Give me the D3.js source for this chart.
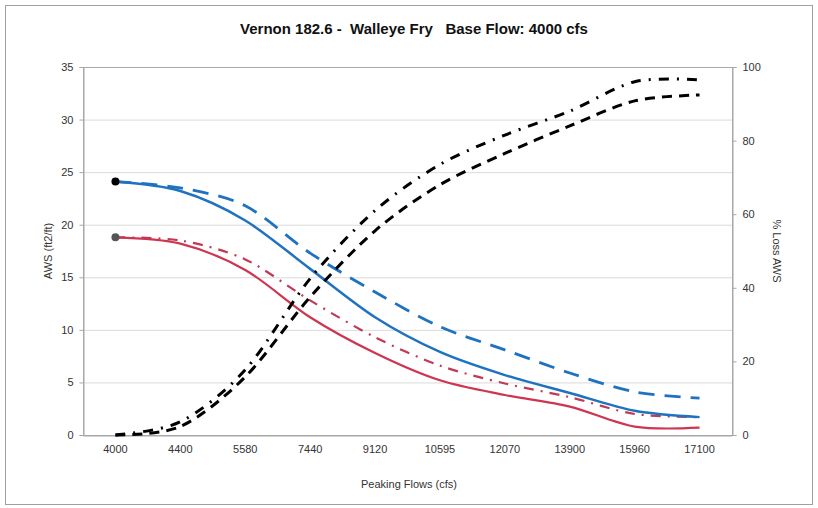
<!DOCTYPE html>
<html>
<head>
<meta charset="utf-8">
<script src="https://cdn.jsdelivr.net/npm/d3@7"></script>
<style>
  body { margin: 0; background: #fff; }
  text { font-family: "Liberation Sans", Arial, sans-serif; }
</style>
</head>
<body>
<svg id="chart" width="818" height="508"></svg>
<script>
// ---- data ----
const categories = ["4000", "4400", "5580", "7440", "9120", "10595", "12070", "13900", "15960", "17100"];
const awsBlueSolid  = [24.1, 23.2, 20.4, 15.8, 11.2, 7.9, 5.7, 4.0, 2.3, 1.7];
const awsBlueDashed = [24.1, 23.5, 21.8, 17.3, 13.6, 10.3, 8.1, 5.9, 4.1, 3.5];
const awsRedSolid   = [18.8, 18.2, 15.7, 11.2, 7.8, 5.2, 3.8, 2.7, 0.8, 0.7];
const awsRedDashDot = [18.8, 18.5, 16.7, 12.8, 9.3, 6.6, 4.9, 3.6, 2.0, 1.7];
const lossDashed    = [0, 2.3, 15.8, 37.5, 55.5, 68, 76.5, 84, 90.8, 92.4];
const lossDashDot   = [0, 3.6, 17.7, 42.5, 61, 73.5, 81.5, 88, 96, 96.5];
const leftTicks  = [0, 5, 10, 15, 20, 25, 30, 35];
const rightTicks = [0, 20, 40, 60, 80, 100];
const title = "Vernon 182.6 -  Walleye Fry   Base Flow: 4000 cfs";

// ---- layout ----
const svg = d3.select("#chart");
const m = { left: 83, right: 732, top: 67, bottom: 435 };

svg.append("rect").attr("x", 5.5).attr("y", 5.5).attr("width", 807).attr("height", 499)
  .attr("fill", "#fff").attr("stroke", "#a0a0a0").attr("stroke-width", 1);

const x = d3.scaleBand().domain(categories).range([m.left, m.right]);
const xc = d => x(d) + x.bandwidth() / 2;
const yL = d3.scaleLinear().domain([0, 35]).range([m.bottom, m.top]);
const yR = d3.scaleLinear().domain([0, 100]).range([m.bottom, m.top]);

// gridlines
svg.append("g").selectAll("line").data(leftTicks.filter(t => t > 0 && t < 35)).join("line")
  .attr("x1", m.left).attr("x2", m.right)
  .attr("y1", d => yL(d) + 0.5).attr("y2", d => yL(d) + 0.5)
  .attr("stroke", "#dadada").attr("stroke-width", 1);

// plot border
svg.append("rect").attr("x", m.left + 0.5).attr("y", m.top + 0.5)
  .attr("width", m.right - m.left).attr("height", m.bottom - m.top)
  .attr("fill", "none").attr("stroke", "#a8a8a8").attr("stroke-width", 1);

// axes
const leftAxis = svg.append("g").attr("transform", `translate(${m.left + 0.5},0)`)
  .call(d3.axisLeft(yL).tickValues(leftTicks).tickSize(4).tickPadding(6));
const rightAxis = svg.append("g").attr("transform", `translate(${m.right + 0.5},0)`)
  .call(d3.axisRight(yR).tickValues(rightTicks).tickSize(4).tickPadding(6));
const bottomAxis = svg.append("g").attr("transform", `translate(0,${m.bottom + 0.5})`)
  .call(d3.axisBottom(x).tickSize(0).tickPadding(10));
[leftAxis, rightAxis, bottomAxis].forEach(g => {
  g.select(".domain").attr("stroke", "#a8a8a8");
  g.selectAll(".tick line").attr("stroke", "#a8a8a8");
  g.selectAll("text").attr("font-size", 11).attr("fill", "#333").attr("font-family", "'Liberation Sans', Arial, sans-serif");
});

// lines
const curve = d3.curveCardinal.tension(0.1);
const lineL = d3.line().x((d, i) => xc(categories[i])).y(d => yL(d)).curve(curve);
const lineR = d3.line().x((d, i) => xc(categories[i])).y(d => yR(d)).curve(curve);

const series = [
  { data: awsRedSolid,   line: lineL, color: "#cf3550", w: 2.2, dash: null },
  { data: awsRedDashDot, line: lineL, color: "#c03a55", w: 2.2, dash: "10,7,2,7" },
  { data: awsBlueDashed, line: lineL, color: "#1f72c0", w: 2.8, dash: "16,10" },
  { data: awsBlueSolid,  line: lineL, color: "#1f72c0", w: 2.5, dash: null },
  { data: lossDashed,    line: lineR, color: "#000", w: 3, dash: "10,7" },
  { data: lossDashDot,   line: lineR, color: "#000", w: 3, dash: "10,8,2,8" }
];
series.forEach(s => {
  svg.append("path").datum(s.data).attr("d", s.line)
    .attr("fill", "none").attr("stroke", s.color).attr("stroke-width", s.w)
    .attr("stroke-dasharray", s.dash).attr("stroke-linecap", "butt");
});

// start markers
svg.append("circle").attr("cx", xc(categories[0])).attr("cy", yL(awsRedSolid[0])).attr("r", 4).attr("fill", "#555");
svg.append("circle").attr("cx", xc(categories[0])).attr("cy", yL(awsBlueSolid[0])).attr("r", 4).attr("fill", "#000");

// titles
svg.append("text").attr("x", 414).attr("y", 34).attr("text-anchor", "middle")
  .style("white-space", "pre").attr("xml:space", "preserve")
  .attr("font-family", "'Liberation Sans Narrow', 'Liberation Sans', Arial, sans-serif")
  .attr("font-size", 15).attr("font-weight", "bold").attr("fill", "#111").text(title);
svg.append("text").attr("transform", "translate(52,251) rotate(-90)").attr("text-anchor", "middle")
  .attr("font-size", 11).attr("fill", "#333").text("AWS (ft2/ft)");
svg.append("text").attr("transform", "translate(773,251) rotate(90)").attr("text-anchor", "middle")
  .attr("font-size", 11).attr("fill", "#333").text("% Loss AWS");
svg.append("text").attr("x", 409).attr("y", 488).attr("text-anchor", "middle")
  .attr("font-size", 11).attr("fill", "#333").text("Peaking Flows (cfs)");
</script>
</body>
</html>
